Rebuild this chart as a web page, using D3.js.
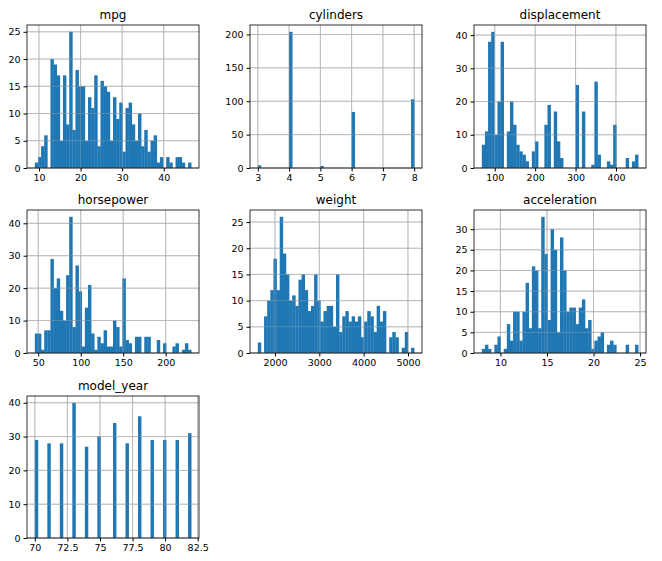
<!DOCTYPE html><html><head><meta charset="utf-8"><script src="https://cdn.jsdelivr.net/npm/d3@7"></script>
<style>body{margin:0;background:#fff}text{font-family:"DejaVu Sans",sans-serif}</style></head><body><svg id="c" width="662" height="561"></svg>
<script>
const mpgCounts=[1,2,4,6,0,20,19,17,5,17,8,25,7,18,15,15,5,13,11,17,4,16,15,14,5,13,9,12,3,11,12,8,5,10,4,7,3,5,6,1,2,0,2,1,0,2,2,1,0,1];
const cylCounts=(()=>{const a=new Array(50).fill(0);a[0]=4;a[10]=204;a[20]=3;a[30]=84;a[49]=103;return a;})();
const dispCounts=[7,11,38,41,10,20,38,0,11,20,13,7,5,4,2,0,5,8,0,0,13,19,0,17,8,3,0,0,0,0,25,0,17,0,0,1,26,4,0,0,2,1,13,0,0,0,3,0,2,4];
const hpCounts=[6,6,1,7,7,29,20,23,13,10,24,42,8,27,19,2,14,21,6,1,5,3,7,2,2,10,8,2,23,4,3,0,5,5,0,5,5,0,0,4,0,3,0,0,2,3,0,1,3,1];
const wtCounts=[2,0,7,10,12,18,12,26,19,15,10,11,9,14,15,12,8,9,15,10,6,8,9,9,5,15,4,7,8,6,7,6,7,3,6,8,7,4,9,6,8,0,3,4,3,0,1,4,0,1];
const accCounts=[1,2,1,0,2,4,0,1,7,3,10,10,3,10,17,6,21,20,6,33,24,8,30,25,5,28,20,10,11,11,7,11,13,6,8,1,3,4,5,0,2,3,2,0,0,0,2,0,0,2];
const yrCounts=(()=>{const a=new Array(50).fill(0);const v=[29,28,28,40,27,30,34,28,36,29,29,29,31];const idx=[0,4,8,12,16,20,25,29,33,37,41,45,49];idx.forEach((k,i)=>a[k]=v[i]);return a;})();
const panels=[
 {t:"mpg",min:9,max:46.6,c:mpgCounts,xt:[10,20,30,40],yt:[0,5,10,15,20,25]},
 {t:"cylinders",min:3,max:8,c:cylCounts,xt:[3,4,5,6,7,8],yt:[0,50,100,150,200]},
 {t:"displacement",min:68,max:455,c:dispCounts,xt:[100,200,300,400],yt:[0,10,20,30,40]},
 {t:"horsepower",min:46,max:230,c:hpCounts,xt:[50,100,150,200],yt:[0,10,20,30,40]},
 {t:"weight",min:1613,max:5140,c:wtCounts,xt:[2000,3000,4000,5000],yt:[0,5,10,15,20,25]},
 {t:"acceleration",min:8,max:24.8,c:accCounts,xt:[10,15,20,25],yt:[0,5,10,15,20,25,30]},
 {t:"model_year",min:70,max:82,c:yrCounts,xt:[70,72.5,75,77.5,80,82.5],yt:[0,10,20,30,40]}];
const colsX=[[27,199],[250,422],[474,646]], rowsY=[[25,168],[210,353],[396,538]];
const svg=d3.select("#c");
panels.forEach((p,i)=>{
 const [x0,x1]=colsX[i%3],[y0,y1]=rowsY[Math.floor(i/3)];
 const span=p.max-p.min;
 const x=d3.scaleLinear().domain([p.min-span*0.05,p.max+span*0.05]).range([x0,x1]);
 const y=d3.scaleLinear().domain([0,d3.max(p.c)*1.05]).range([y1,y0]);
 const g=svg.append("g");
 const w=span/50;
 const drawGrid=(op)=>{const grid=g.append("g").attr("stroke","#b0b0b0").attr("stroke-width",0.8).attr("opacity",op);
  p.xt.forEach(v=>grid.append("line").attr("x1",x(v)).attr("x2",x(v)).attr("y1",y0).attr("y2",y1));
  p.yt.forEach(v=>grid.append("line").attr("x1",x0).attr("x2",x1).attr("y1",y(v)).attr("y2",y(v)));};
 drawGrid(1);
 g.selectAll("rect.b").data(p.c).join("rect").attr("class","b").attr("x",(d,k)=>x(p.min+k*w)).attr("width",(d,k)=>x(p.min+(k+1)*w)-x(p.min+k*w)+0.3)
  .attr("y",d=>y(d)).attr("height",d=>y1-y(d)).attr("fill","#1f77b4");
 drawGrid(0.45);
 const xa=g.append("g").attr("transform",`translate(0,${y1})`).call(d3.axisBottom(x).tickValues(p.xt).tickSize(3.5).tickPadding(3).tickFormat(d=>String(d)));
 const ya=g.append("g").attr("transform",`translate(${x0},0)`).call(d3.axisLeft(y).tickValues(p.yt).tickSize(3.5).tickPadding(3).tickFormat(d=>String(d)));
 [xa,ya].forEach(a=>{a.select(".domain").remove();a.selectAll("text").attr("font-size",9.5).attr("fill","#000");a.selectAll("line").attr("stroke","#000");});
 g.append("rect").attr("x",x0).attr("y",y0).attr("width",x1-x0).attr("height",y1-y0).attr("fill","none").attr("stroke","#000").attr("stroke-width",0.8);
 g.append("text").attr("x",(x0+x1)/2).attr("y",y0-6).attr("text-anchor","middle").attr("font-size",12).text(p.t);
});
</script></body></html>
